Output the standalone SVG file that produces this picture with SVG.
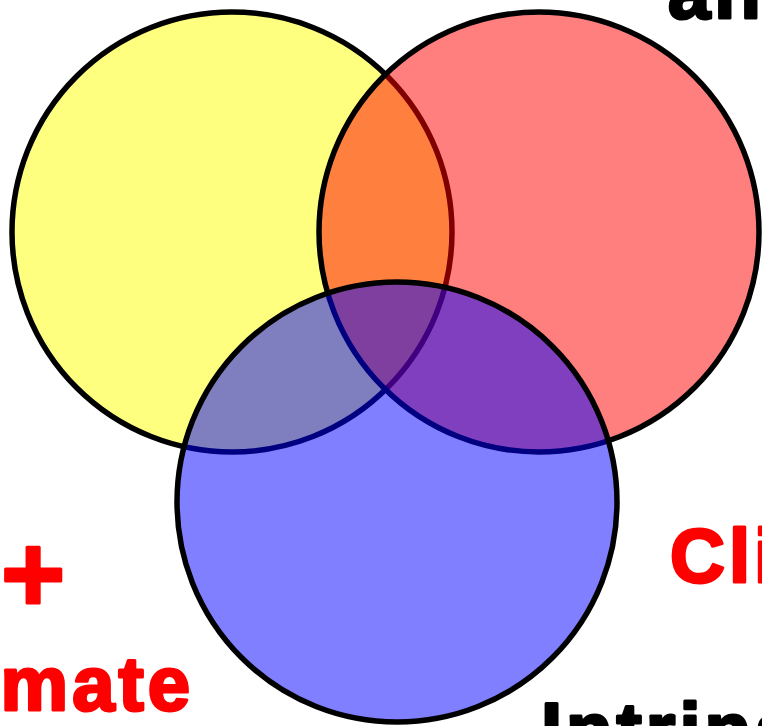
<svg xmlns="http://www.w3.org/2000/svg" width="762" height="726" viewBox="0 0 762 726">
<style>
.c{stroke:#000;stroke-width:5.5;fill-opacity:0.5}
.t{font-family:"Liberation Sans",Arial,sans-serif;font-weight:bold;font-size:76px;stroke-width:3;stroke-linejoin:round;letter-spacing:4px}
.r{fill:#f00;stroke:#f00}
.k{fill:#000;stroke:#000}
</style>
<rect width="762" height="726" fill="#fff"/>
<g id="yellow"><circle class="c" cx="232" cy="232" r="220" fill="#ff0"/></g>
<g id="red"><circle class="c" cx="539" cy="232" r="220" fill="#f00"/></g>
<g id="blue"><circle class="c" cx="397" cy="502" r="220" fill="#00f"/></g>
<g id="labels">
<text class="t k" x="668" y="18">and</text>
<text class="t r" x="1" y="612" style="font-size:110px">+</text>
<text class="t r" x="194" y="710" text-anchor="end">mate</text>
<text class="t r" x="670" y="582">Cli</text>
<text class="t k" x="541" y="756">Intrins</text>
</g>
<g id="connectors"/>
</svg>
